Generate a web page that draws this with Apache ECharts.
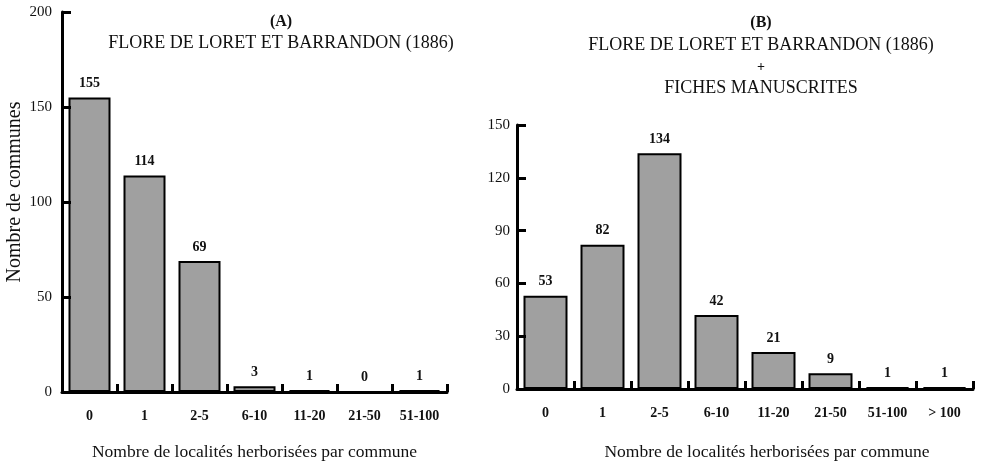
<!DOCTYPE html>
<html>
<head>
    <meta charset="utf-8">
    <title>Nombre de localités herborisées par commune</title>
    <script src="https://cdn.jsdelivr.net/npm/echarts@6/dist/echarts.min.js"></script>
    <style type="text/css">
        body{
            margin: 0;
            background: #fff;
        }
        #main{
            width: 983px;
            height: 466px;
        }
    </style>
</head>
<body>
<div id="main"></div>
<script>
    // (A) flore seule
    var categoriesA = ["0", "1", "2-5", "6-10", "11-20", "21-50", "51-100"];
    var valuesA = [155, 114, 69, 3, 1, 0, 1];
    var ticksA = [0, 50, 100, 150, 200];
    // (B) flore + fiches manuscrites
    var categoriesB = ["0", "1", "2-5", "6-10", "11-20", "21-50", "51-100", "> 100"];
    var valuesB = [53, 82, 134, 42, 21, 9, 1, 1];
    var ticksB = [0, 30, 60, 90, 120, 150];

    var serif = "Liberation Serif";
    var myChart = echarts.init(document.getElementById('main'));

    function xAxisOf(idx, cats, nameGap, pad) {
        return {
            type: 'category',
            gridIndex: idx,
            data: cats,
            z: 5,
            name: 'Nombre de localités herborisées par commune',
            nameLocation: 'middle',
            nameGap: nameGap,
            nameTextStyle: {fontFamily: serif, fontSize: 17.5, color: '#111', padding: pad},
            axisLine: {lineStyle: {color: '#000', width: 3}},
            axisTick: {show: true, interval: 0, alignWithLabel: false, inside: true, length: 8, lineStyle: {color: '#000', width: 3}},
            axisLabel: {fontFamily: serif, fontSize: 14, fontWeight: 'bold', color: '#111', margin: 17}
        };
    }
    function yAxisOf(idx, ticks, margin) {
        return {
            type: 'value',
            gridIndex: idx,
            z: 5,
            min: ticks[0],
            max: ticks[ticks.length - 1],
            interval: ticks[1] - ticks[0],
            splitLine: {show: false},
            axisLine: {show: true, lineStyle: {color: '#000', width: 3}},
            axisTick: {show: true, inside: true, length: 9, lineStyle: {color: '#000', width: 3}},
            axisLabel: {fontFamily: serif, fontSize: 15, color: '#111', margin: margin}
        };
    }
    function barOf(idx, vals, w) {
        return {
            type: 'bar',
            xAxisIndex: idx,
            yAxisIndex: idx,
            data: vals,
            barWidth: w,
            itemStyle: {color: '#a0a0a0', borderColor: '#000', borderWidth: 2},
            label: {
                show: true,
                position: 'top',
                distance: 7,
                fontFamily: serif,
                fontSize: 14,
                fontWeight: 'bold',
                color: '#111'
            }
        };
    }

    var option = {
        animation: false,
        grid: [
            {left: 62, right: 536, top: 12, bottom: 73},
            {left: 517, right: 10, top: 125, bottom: 69}
        ],
        xAxis: [xAxisOf(0, categoriesA, 51, 0), xAxisOf(1, categoriesB, 54, [0, 0, 0, 44])],
        yAxis: [yAxisOf(0, ticksA, 10), yAxisOf(1, ticksB, 7)],
        series: [barOf(0, valuesA, 42), barOf(1, valuesB, 44)],
        graphic: [
            {type: 'text', x: 281, y: 22, style: {text: '(A)', font: 'bold 16px "Liberation Serif"', fill: '#111', align: 'center', verticalAlign: 'middle'}},
            {type: 'text', x: 281, y: 43, style: {text: 'FLORE DE LORET ET BARRANDON (1886)', font: '18px "Liberation Serif"', fill: '#111', align: 'center', verticalAlign: 'middle'}},
            {type: 'text', x: 761, y: 23, style: {text: '(B)', font: 'bold 16px "Liberation Serif"', fill: '#111', align: 'center', verticalAlign: 'middle'}},
            {type: 'text', x: 761, y: 45, style: {text: 'FLORE DE LORET ET BARRANDON (1886)', font: '18px "Liberation Serif"', fill: '#111', align: 'center', verticalAlign: 'middle'}},
            {type: 'text', x: 761, y: 67, style: {text: '+', font: 'bold 14px "Liberation Serif"', fill: '#111', align: 'center', verticalAlign: 'middle'}},
            {type: 'text', x: 761, y: 88, style: {text: 'FICHES MANUSCRITES', font: '18px "Liberation Serif"', fill: '#111', align: 'center', verticalAlign: 'middle'}},
            {type: 'text', x: 15, y: 192, rotation: Math.PI / 2, style: {text: 'Nombre de communes', font: '20px "Liberation Serif"', fill: '#111', align: 'center', verticalAlign: 'middle'}}
        ]
    };
    myChart.setOption(option);
</script>
</body>
</html>
